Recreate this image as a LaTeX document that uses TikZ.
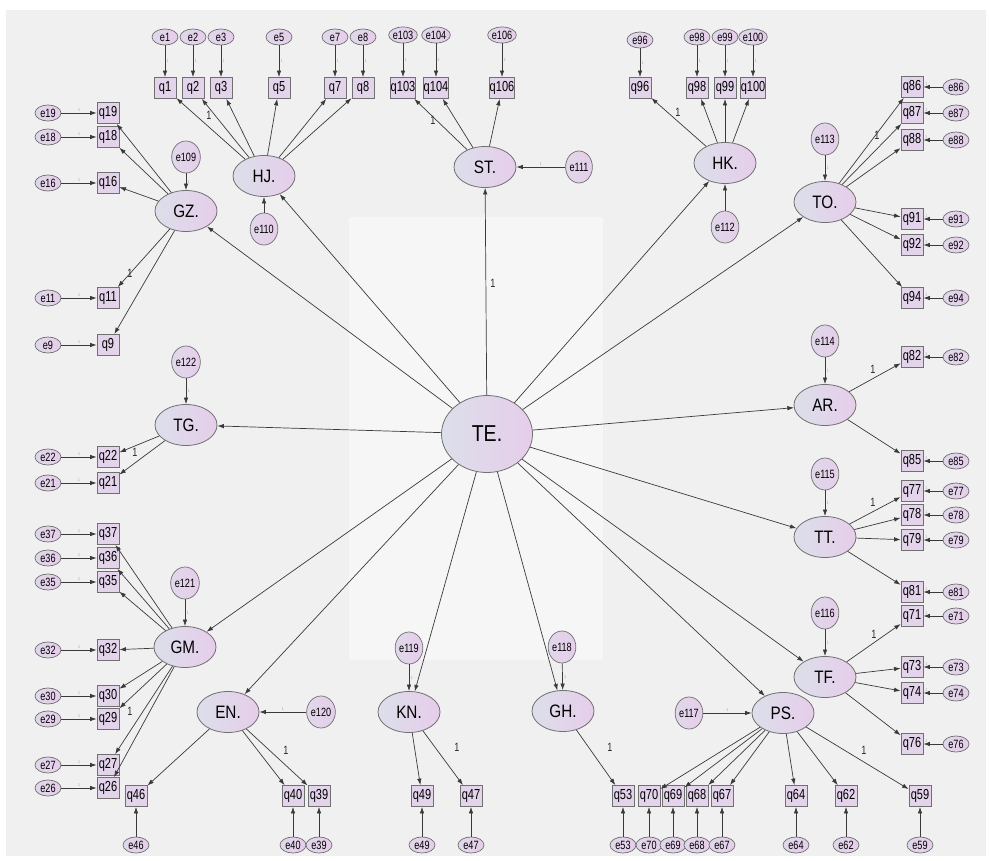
\documentclass[tikz,border=0pt]{standalone}
\usepackage{fontspec}
\setmainfont{Liberation Sans}
\newfontfamily\amos[FakeStretch=0.76]{Liberation Sans}
\newfontfamily\amosl[FakeStretch=0.85]{Liberation Sans}
\usetikzlibrary{shapes.geometric,arrows.meta}
\definecolor{bgA}{HTML}{F0F0F0}
\definecolor{bgB}{HTML}{F6F6F6}
\definecolor{latL}{HTML}{DCDFEA}
\definecolor{latR}{HTML}{E6CDEA}
\definecolor{obsF}{HTML}{E3D3EB}
\definecolor{edgeC}{HTML}{707070}
\definecolor{arrC}{HTML}{3A3A3A}
\begin{document}
\begin{tikzpicture}[x=1pt,y=-1pt,
 lat/.style={ellipse,draw=edgeC,line width=0.8pt,left color=latL,right color=latR,minimum width=62pt,minimum height=41pt,inner sep=0pt,font=\amosl\fontsize{18}{18}\selectfont},
 big/.style={lat,minimum width=91pt,minimum height=77pt,font=\amosl\fontsize{23}{23}\selectfont},
 obs/.style={rectangle,draw=edgeC,line width=0.8pt,fill=obsF,minimum width=22pt,minimum height=21pt,inner sep=0pt,font=\amos\fontsize{14.5}{14.5}\selectfont},
 err/.style={ellipse,draw=edgeC,line width=0.7pt,left color=latL!60!latR,right color=latR,minimum width=26pt,minimum height=16pt,inner sep=0pt,font=\amos\fontsize{12}{12}\selectfont},
 errv/.style={err,minimum width=23pt,minimum height=32pt},
 arr/.style={draw=arrC,line width=0.7pt,-{Latex[length=6.5pt,width=4.5pt]}},
 wl/.style={font=\amos\fontsize{4.5}{4.5}\selectfont,text=gray!70,inner sep=1.5pt},
 one/.style={font=\amos\fontsize{12}{12}\selectfont,text=black!85,inner sep=0pt}
]
\useasboundingbox (0,0) rectangle (990,861);
\fill[white] (0,0) rectangle (990,861);
\fill[bgA] (6,10) rectangle (986,856);
\fill[bgB] (349,217) rectangle (603,660);

% latent variables
\node[big] (TE) at (487,434) {TE.};
\node[lat] (HJ) at (264,176) {HJ.};
\node[lat] (GZ) at (186,211) {GZ.};
\node[lat] (ST) at (485,167) {ST.};
\node[lat] (HK) at (725,163) {HK.};
\node[lat] (TO) at (825,202) {TO.};
\node[lat] (TG) at (186,425) {TG.};
\node[lat] (AR) at (825,405) {AR.};
\node[lat] (TT) at (825,537) {TT.};
\node[lat] (TF) at (825,677) {TF.};
\node[lat] (PS) at (783,713) {PS.};
\node[lat] (GM) at (185,647) {GM.};
\node[lat] (EN) at (228,712) {EN.};
\node[lat] (KN) at (409,712) {KN.};
\node[lat] (GH) at (563,711) {GH.};

% structural paths
\foreach \L in {HJ,GZ,ST,HK,TO,TG,AR,TT,TF,PS,GH,KN,EN,GM}
  \draw[arr] (TE) -- (\L);
\node[one] (l1) at (493,283) {1};

% latent residuals
\node[errv] (e109) at (186,157) {e109};
\node[errv] (e110) at (264,229) {e110};
\node[errv] (e111) at (579,167) {e111};
\node[errv] (e112) at (725,227) {e112};
\node[errv] (e113) at (825,139) {e113};
\node[errv] (e114) at (825,341) {e114};
\node[errv] (e115) at (825,474) {e115};
\node[errv] (e116) at (825,613) {e116};
\node[errv] (e117) at (689,713) {e117};
\node[errv] (e118) at (562,647) {e118};
\node[errv] (e119) at (409,648) {e119};
\node[errv] (e120) at (321,712) {e120};
\node[errv] (e121) at (185,583) {e121};
\node[errv] (e122) at (186,362) {e122};
\foreach \e/\L in {109/GZ,113/TO,114/AR,115/TT,116/TF,118/GH,119/KN,121/GM,122/TG}
  \draw[arr] (e\e) -- node[wl,right]{1} (\L);
\foreach \e/\L in {111/ST,117/PS,120/EN}
  \draw[arr] (e\e) -- node[wl,above]{1} (\L);
\draw[arr] (e110) -- (HJ);
\draw[arr] (e112) -- (HK);

% top indicators
\foreach \n/\x/\ey in {1/165/37,2/193/37,3/221/37,5/279/37,7/335/37,8/363/37,103/403/35,104/436/35,106/502/35,96/640/40,98/697/37,99/725/37,100/753/37}{
  \node[obs] (q\n) at (\x,88) {q\n};
  \node[err] (e\n) at (\x,\ey) {e\n};
  \draw[arr] (e\n) -- node[wl,right]{1} (q\n);
}
% left indicators
\foreach \n/\y in {19/113,18/137,16/183,11/298,9/345,22/457,21/483,37/534,36/558,35/582,32/650,30/696,29/719,27/765,26/788}{
  \node[obs] (q\n) at (108,\y) {q\n};
  \node[err] (e\n) at (48,\y) {e\n};
  \draw[arr] (e\n) -- node[wl,above]{1} (q\n);
}
% right indicators
\foreach \n/\y in {86/87,87/113,88/140,91/219,92/245,94/298,82/357,85/461,77/491,78/515,79/540,81/592,71/616,73/667,74/693,76/744}{
  \node[obs] (q\n) at (912,\y) {q\n};
  \node[err] (e\n) at (956,\y) {e\n};
  \draw[arr] (e\n) -- node[wl,above,pos=0.85]{1} (q\n);
}
% bottom indicators
\foreach \n/\x in {46/136,40/293,39/319,49/422,47/471,53/623,70/649,69/673,68/697,67/722,64/796,62/846,59/920}{
  \node[obs] (q\n) at (\x,796) {q\n};
  \node[err] (e\n) at (\x,845) {e\n};
  \draw[arr] (e\n) -- (q\n);
}

% measurement paths
\foreach \q in {1,2,3,5,7,8} \draw[arr] (HJ) -- (q\q);
\foreach \q in {103,104,106} \draw[arr] (ST) -- (q\q);
\foreach \q in {96,98,99,100} \draw[arr] (HK) -- (q\q);
\foreach \q in {86,87,88,91,92,94} \draw[arr] (TO) -- (q\q);
\foreach \q in {19,18,16,11,9} \draw[arr] (GZ) -- (q\q);
\foreach \q in {22,21} \draw[arr] (TG) -- (q\q);
\foreach \q in {37,36,35,32,30,29,27,26} \draw[arr] (GM) -- (q\q);
\foreach \q in {46,40,39} \draw[arr] (EN) -- (q\q);
\foreach \q in {49,47} \draw[arr] (KN) -- (q\q);
\draw[arr] (GH) -- (q53);
\foreach \q in {70,69,68,67,64,62,59} \draw[arr] (PS) -- (q\q);
\foreach \q in {71,73,74,76} \draw[arr] (TF) -- (q\q);
\foreach \q in {77,78,79,81} \draw[arr] (TT) -- (q\q);
\foreach \q in {82,85} \draw[arr] (AR) -- (q\q);

% fixed loadings
\node[one] (l2) at (209,115) {1};
\node[one] (l3) at (433,120) {1};
\node[one] (l4) at (678,112) {1};
\node[one] (l5) at (877,135) {1};
\node[one] (l6) at (130,273) {1};
\node[one] (l7) at (135,452) {1};
\node[one] (l8) at (873,369) {1};
\node[one] (l9) at (873,502) {1};
\node[one] (l10) at (874,634) {1};
\node[one] (l11) at (864,750) {1};
\node[one] (l12) at (610,747) {1};
\node[one] (l13) at (457,747) {1};
\node[one] (l14) at (286,750) {1};
\node[one] (l15) at (130,711) {1};
\end{tikzpicture}
\end{document}
